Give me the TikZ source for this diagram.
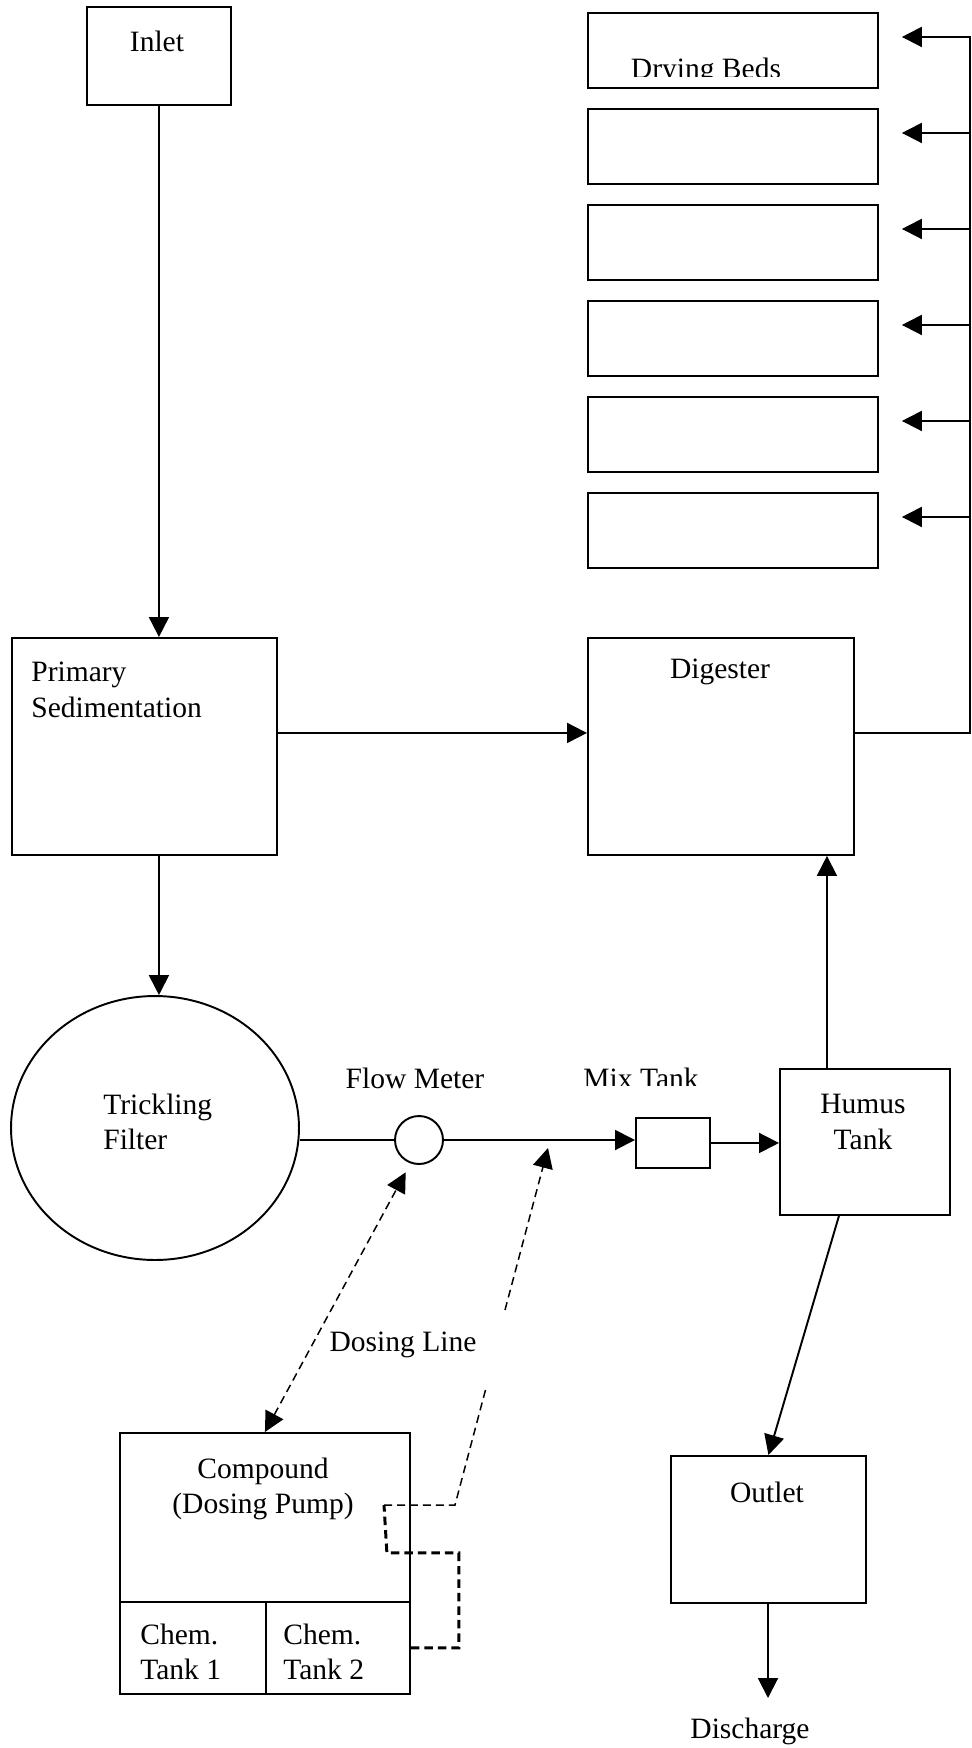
\documentclass[tikz,border=0pt]{standalone}
\usepackage{fontspec}
\setmainfont{Liberation Serif}
\usetikzlibrary{arrows.meta, positioning, shapes.geometric, calc}

\begin{document}
\begin{tikzpicture}[
  x=0.02cm, y=-0.02cm,
  font=\fontsize{16.8}{20.2}\selectfont,
  box/.style={draw, line width=1.1pt, inner sep=0pt, anchor=north west},
  txt/.style={inner sep=0pt, align=center},
  plain/.style={line width=1.1pt},
  arr/.style={-{Triangle[length=0.4cm, width=0.4cm]}, line width=1.1pt},
  dosing/.style={dash pattern=on 0.16cm off 0.1cm, line width=0.85pt},
  dosingheavy/.style={dash pattern=on 0.17cm off 0.1cm, line width=1.7pt}
]
\useasboundingbox (0,0) rectangle (971,1748);

% process units
\node[box, minimum width=2.88cm, minimum height=1.96cm] (inlet) at (86,6) {};
\node[box, minimum width=5.3cm, minimum height=4.34cm] (prim) at (11,637) {};
\node[box, minimum width=5.32cm, minimum height=4.34cm] (dig) at (587,637) {};
\node[draw, ellipse, line width=1.1pt, inner sep=0pt,
  minimum width=5.76cm, minimum height=5.28cm] (filter) at (155,1128) {};
\node[draw, circle, line width=1.1pt, inner sep=0pt, minimum size=0.96cm] (meter) at (419,1140) {};
\node[box, minimum width=1.48cm, minimum height=1cm] (mix) at (635,1117) {};
\node[box, minimum width=3.4cm, minimum height=2.92cm] (humus) at (779,1068) {};
\node[box, minimum width=3.9cm, minimum height=2.94cm] (outlet) at (670,1455) {};
\node[box, minimum width=5.8cm, minimum height=3.38cm] (pump) at (119,1432) {};
\node[box, minimum width=2.92cm, minimum height=1.84cm] (tank1) at (119,1601) {};
\node[box, minimum width=2.88cm, minimum height=1.84cm] (tank2) at (265,1601) {};

% drying beds
\foreach \i in {1,...,6} {
  \node[box, minimum width=5.8cm, minimum height=1.5cm] (bed\i) at (587,{12+96*(\i-1)}) {};
  \coordinate (in\i) at ([xshift=0.46cm, yshift=0.27cm]bed\i.east);
}

% labels
\node[txt] (inlet-t) at (157,41) {Inlet};
\begin{scope}
  \clip (587,12) rectangle (877,76);
  \node[txt, anchor=base] (beds-t) at (706,78) {Drying Beds};
\end{scope}
\node[txt, align=left, anchor=west] (prim-t) at (31,690) {Primary\\Sedimentation};
\node[txt] (dig-t) at (720,672) {Digester};
\node[txt, align=left, anchor=west] (filter-t) at (103,1122) {Trickling\\Filter};
\node[txt] (meter-t) at (415,1078) {Flow Meter};
\begin{scope}
  \clip (560,1050) rectangle (720,1085);
  \node[txt, anchor=base] (mix-t) at (641,1088) {Mix Tank};
\end{scope}
\node[txt] (humus-t) at (863,1122) {Humus\\Tank};
\node[txt] (dose-t) at (403,1345) {Dosing Line};
\node[txt] (pump-t) at (263,1489) {Compound\\(Dosing Pump)};
\node[txt, align=left, anchor=west] (tank1-t) at (140,1652) {Chem.\\Tank 1};
\node[txt, align=left, anchor=west] (tank2-t) at (283,1652) {Chem.\\Tank 2};
\node[txt] (outlet-t) at (767,1492) {Outlet};
\node[txt] (dis-t) at (750,1731) {Discharge};

% main flow
\draw[arr] (inlet.south) -- (inlet.south |- prim.north);
\draw[arr] ([yshift=0.27cm]prim.east) -- ([yshift=0.27cm]dig.west);
\draw[arr] (prim.south -| inlet.south) -- (filter.north -| inlet.south);
\draw[plain] (filter.east |- meter.west) -- (meter.west);
\draw[arr] (meter.east) -- (meter.east -| mix.west);
\draw[arr] (mix.east) -- (mix.east -| humus.west);
\draw[arr] ([xshift=-0.76cm]humus.north) -- ([xshift=-0.76cm]humus.north |- dig.south);
\draw[arr] ([xshift=-0.52cm]humus.south) -- (outlet.north);
\coordinate (distip) at (768,1698);
\draw[arr] (outlet.south -| distip) -- (distip);

% sludge to the drying beds
\coordinate (digout) at ([yshift=0.27cm]dig.east);
\coordinate (bustop) at (970,36);
\draw[plain] (digout) -- (digout -| bustop) -- (bustop);
\foreach \i in {1,...,6}
  \draw[arr] (in\i -| bustop) -- (in\i);

% dosing lines
\draw[dosing, {Triangle[length=0.4cm, width=0.4cm]}-{Triangle[length=0.4cm, width=0.4cm]},
  shorten >=0.2cm] (pump.north) -- (meter.-110);
\coordinate (jog) at (384,1505);
\coordinate (gapA) at (486,1388);
\coordinate (gapB) at (505,1310);
\coordinate (dosetip) at (548,1148);
\draw[dosingheavy] (tank2.east) -- ++(48,0) -- ++(0,-95) -- ++(-72,0) -- (jog);
\draw[dosing] (jog) -- ++(71,0) -- (gapA);
\draw[dosing, arr, dash pattern=on 0.16cm off 0.1cm, line width=0.85pt] (gapB) -- (dosetip);
\end{tikzpicture}
\end{document}
